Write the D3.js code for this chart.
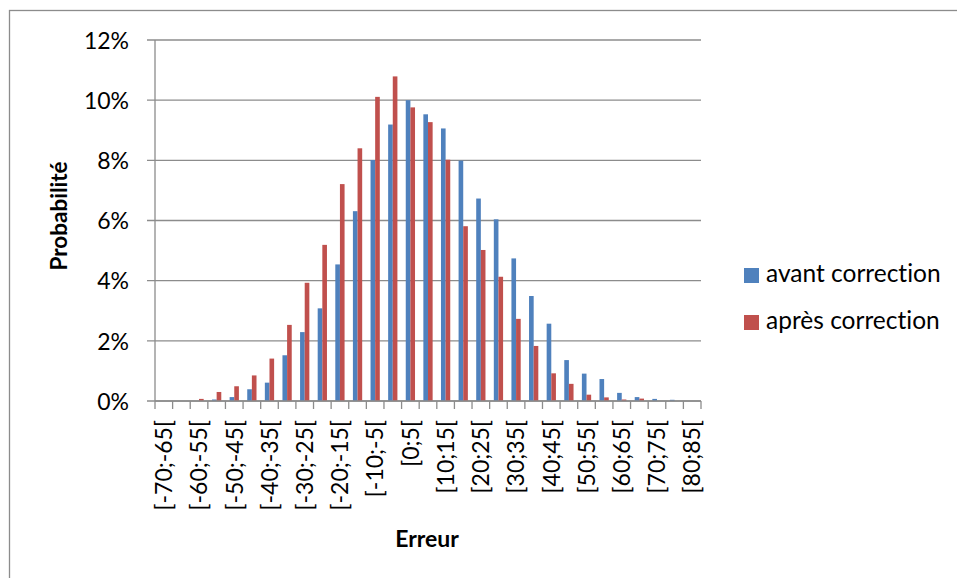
<!DOCTYPE html>
<html>
<head>
<meta charset="utf-8">
<script src="https://cdn.jsdelivr.net/npm/d3@7"></script>
<style>
  body { margin: 0; background: #fff; }
  svg { display: block; font-family: Lato, "Open Sans", sans-serif; font-variant-ligatures: none; }
</style>
</head>
<body>
<svg id="chart" width="957" height="578"></svg>
<script>
// class bins of the error (in %)
var categories = ["[-70;-65[", "[-65;-60[", "[-60;-55[", "[-55;-50[", "[-50;-45[", "[-45;-40[",
  "[-40;-35[", "[-35;-30[", "[-30;-25[", "[-25;-20[", "[-20;-15[", "[-15;-10[", "[-10;-5[",
  "[-5;0[", "[0;5[", "[5;10[", "[10;15[", "[15;20[", "[20;25[", "[25;30[", "[30;35[",
  "[35;40[", "[40;45[", "[45;50[", "[50;55[", "[55;60[", "[60;65[", "[65;70[", "[70;75[",
  "[75;80[", "[80;85["];

// probabilities in %
var avant = [0, 0, 0, 0.05, 0.13, 0.39, 0.61, 1.52, 2.29, 3.08, 4.54, 6.31, 8.01,
  9.19, 10.0, 9.53, 9.06, 7.99, 6.73, 6.04, 4.74, 3.49, 2.57, 1.36, 0.91, 0.73,
  0.27, 0.13, 0.07, 0.04, 0];
var apres = [0, 0, 0.07, 0.30, 0.49, 0.85, 1.41, 2.53, 3.93, 5.19, 7.21, 8.40, 10.11,
  10.79, 9.76, 9.27, 8.02, 5.81, 5.02, 4.13, 2.73, 1.83, 0.92, 0.57, 0.21, 0.12,
  0.05, 0.08, 0, 0, 0];

var seriesNames = ["avant correction", "après correction"];
var seriesColors = ["#4F81BD", "#C0504D"];
var yTicks = [0, 2, 4, 6, 8, 10, 12];

var margin = {top: 40, left: 155, right: 256, bottom: 177};
var width = 957 - margin.left - margin.right;
var height = 578 - margin.top - margin.bottom;

var svg = d3.select("#chart");

// outer frame of the chart (only left and top edges are in view)
svg.append("rect")
  .attr("x", 9.5).attr("y", 10.5)
  .attr("width", 1000).attr("height", 1000)
  .attr("fill", "none")
  .attr("stroke", "#8c8c8c")
  .attr("stroke-width", 1.3);

var g = svg.append("g")
  .attr("transform", "translate(" + margin.left + "," + margin.top + ")");

var x = d3.scaleBand().domain(categories).range([0, width]);
var band = x.bandwidth();
var gap = band * 1.8 / 3.8;
var x1 = d3.scaleBand().domain(seriesNames).range([gap / 2, band - gap / 2]);
var y = d3.scaleLinear().domain([0, 12]).range([height, 0]);

// gridlines
g.append("g")
  .selectAll("line")
  .data(yTicks)
  .enter().append("line")
  .attr("x1", -8).attr("x2", width)
  .attr("y1", d => y(d)).attr("y2", d => y(d))
  .attr("stroke", "#8c8c8c")
  .attr("stroke-width", 1.3);

// y tick labels
var yAxis = g.append("g")
  .call(d3.axisLeft(y).tickValues(yTicks).tickFormat(d => d + "%").tickSize(0).tickPadding(26));
yAxis.select(".domain").remove();
yAxis.selectAll("text")
  .style("font-family", "Lato, sans-serif")
  .style("font-size", "23px")
  .attr("fill", "#000")
  .attr("dy", "0.36em");

// bars
var rows = categories.map((c, i) => ({cat: c, values: [avant[i], apres[i]]}));
g.append("g")
  .selectAll("g")
  .data(rows)
  .enter().append("g")
  .attr("transform", d => "translate(" + x(d.cat) + ",0)")
  .selectAll("rect")
  .data(d => d.values.map((v, k) => ({name: seriesNames[k], value: v, color: seriesColors[k]})))
  .enter().append("rect")
  .attr("x", d => x1(d.name))
  .attr("y", d => y(d.value))
  .attr("width", x1.bandwidth())
  .attr("height", d => height - y(d.value))
  .attr("fill", d => d.color);

// y axis line
g.append("line")
  .attr("x1", 0).attr("x2", 0)
  .attr("y1", 0).attr("y2", height)
  .attr("stroke", "#8c8c8c")
  .attr("stroke-width", 1.3);

// x axis line and ticks at bin boundaries
g.append("line")
  .attr("x1", 0).attr("x2", width)
  .attr("y1", height).attr("y2", height)
  .attr("stroke", "#8c8c8c")
  .attr("stroke-width", 1.3);
g.append("g")
  .selectAll("line")
  .data(d3.range(categories.length + 1))
  .enter().append("line")
  .attr("x1", i => i * band).attr("x2", i => i * band)
  .attr("y1", height).attr("y2", height + 8)
  .attr("stroke", "#8c8c8c")
  .attr("stroke-width", 1.3);

// x labels, every other bin
g.append("g")
  .selectAll("text")
  .data(categories.filter((c, i) => i % 2 === 0))
  .enter().append("text")
  .attr("transform", d => "translate(" + (x(d) + band / 2) + "," + (height + 19) + ") rotate(-90)")
  .attr("text-anchor", "end")
  .attr("dy", "0.36em")
  .style("font-size", "23px")
  .text(d => d);

// axis titles
svg.append("text")
  .attr("x", 427).attr("y", 547)
  .attr("text-anchor", "middle")
  .style("font-size", "23px")
  .style("font-weight", "bold")
  .text("Erreur");

svg.append("text")
  .attr("transform", "translate(67,216) rotate(-90)")
  .attr("text-anchor", "middle")
  .style("font-size", "22.5px")
  .style("font-weight", "bold")
  .text("Probabilité");

// legend
var legend = svg.append("g")
  .selectAll("g")
  .data(seriesNames)
  .enter().append("g")
  .attr("transform", (d, i) => "translate(744," + (268 + i * 47) + ")");
legend.append("rect")
  .attr("width", 15).attr("height", 15)
  .attr("fill", (d, i) => seriesColors[i]);
legend.append("text")
  .attr("x", 22).attr("y", 14)
  .style("font-size", "24.5px")
  .text(d => d);
</script>
</body>
</html>
